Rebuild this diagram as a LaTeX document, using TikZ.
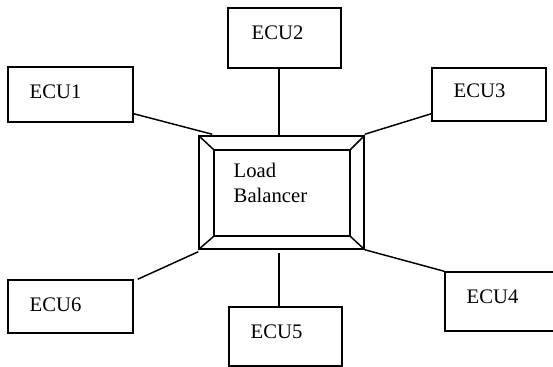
\documentclass[tikz,border=0pt]{standalone}
\usepackage{fontspec}
\setmainfont{Liberation Serif}
\usetikzlibrary{fit}
\begin{document}
\begin{tikzpicture}[x=0.75pt,y=-0.75pt,
  line width=1.1pt,
  box/.style={draw, inner sep=0pt, line width=1.1pt},
  lbl/.style={anchor=base west, inner sep=0pt, font=\fontsize{15.5}{18}\selectfont, align=left},
  link/.style={draw, line width=1.1pt}]
\clip (0,0) rectangle (553,367);
\useasboundingbox (0,0) rectangle (553,367);
% ECU boxes
\node[box, fit={(8,67)(133,122)}] (e1) {};
\node[box, fit={(228,8)(341,68)}] (e2) {};
\node[box, fit={(432,68)(546,121)}] (e3) {};
\node[box, fit={(445,272)(558,331)}] (e4) {};
\node[box, fit={(229,307)(342,366)}] (e5) {};
\node[box, fit={(8,280)(133,333)}] (e6) {};
% labels
\node[lbl] (t1) at (29,99) {ECU1};
\node[lbl] (t2) at (251,40) {ECU2};
\node[lbl] (t3) at (453,98) {ECU3};
\node[lbl] (t4) at (466,303) {ECU4};
\node[lbl] (t5) at (250,338) {ECU5};
\node[lbl] (t6) at (29,311) {ECU6};
% load balancer
\node[box, fit={(199,136)(364,249)}] (lb) {};
\node[box, fit={(214,150)(350,236)}] (lbi) {};
\draw (lb.north west) -- (lbi.north west);
\draw (lb.north east) -- (lbi.north east);
\draw (lb.south west) -- (lbi.south west);
\draw (lb.south east) -- (lbi.south east);
\node[lbl] (tlb) at (233,178) {Load};
\node[lbl] (tlb2) at (233,202) {Balancer};
% connectors
\draw[link] ([yshift=6.75pt]e1.south east) -- ([xshift=10.5pt,yshift=0.75pt]lb.north west);
\coordinate (c2) at (279,68);
\coordinate (c2b) at (279,136);
\draw[link] (c2) -- (c2b);
\draw[link] ([yshift=6pt]e3.south west) -- ([yshift=0.75pt]lb.north east);
\draw[link] (lb.south east) -- (e4.north west);
\coordinate (c5) at (279,253);
\coordinate (c5b) at (279,307);
\draw[link] (c5) -- (c5b);
\draw[link] ([xshift=3pt]e6.north east) -- ([yshift=-1.5pt]lb.south west);
\end{tikzpicture}
\end{document}
